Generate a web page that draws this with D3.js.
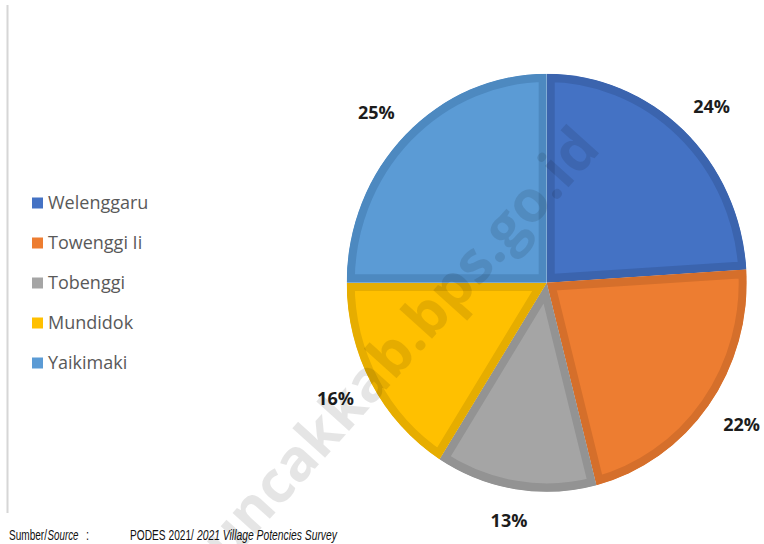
<!DOCTYPE html>
<html>
<head>
<meta charset="utf-8">
<script src="https://cdn.jsdelivr.net/npm/d3@7"></script>
<style>
  body { margin: 0; background: #fff; }
  svg { display: block; }
</style>
</head>
<body>
<svg id="chart" width="764" height="544"></svg>
<script>
// data
const villages = ["Welenggaru", "Towenggi Ii", "Tobenggi", "Mundidok", "Yaikimaki"];
const shares = [24, 22, 13, 16, 25];
const fills = ["#4472c4", "#ed7d31", "#a5a5a5", "#ffc000", "#5b9bd5"];
const borders = ["#3b64ae", "#d56f2b", "#939393", "#e6ad00", "#4d89c0"];
// potongan teks sumber: [teks, miring?, x, panjang]
const sourceParts = [
  ["Sumber/", false, 9, 38],
  ["Source", true, 47.5, 31],
  [":", false, 86, 3],
  ["PODES 2021/", false, 130, 64],
  ["2021 Village Potencies Survey", true, 197, 140]
];
const watermark = "puncakkab.bps.go.id";

const w = 764, h = 544;
const cx = 546.7, cy = 282.7, r = 200;

const svg = d3.select("#chart");

// garis tipis di kiri
svg.append("line")
  .attr("x1", 7.5).attr("x2", 7.5)
  .attr("y1", 5).attr("y2", 513)
  .attr("stroke", "#d6d6d6")
  .attr("stroke-width", 2);

// pie
const pie = d3.pie().sort(null).value(d => d);
const arcs = pie(shares);
const arc = d3.arc().innerRadius(0).outerRadius(r);
const labelArc = d3.arc().innerRadius(241).outerRadius(241);

const defs = svg.append("defs");
defs.selectAll("clipPath")
  .data(arcs)
  .join("clipPath")
  .attr("id", (d, i) => "slice" + i)
  .append("path")
  .attr("d", arc);

const g = svg.append("g")
  .attr("transform", `translate(${cx},${cy}) scale(1,1.045)`);

g.selectAll("path.slice")
  .data(arcs)
  .join("path")
  .attr("class", "slice")
  .attr("d", arc)
  .attr("fill", (d, i) => fills[i])
  .attr("stroke", (d, i) => borders[i])
  .attr("stroke-width", 16)
  .attr("stroke-linejoin", "miter")
  .attr("clip-path", (d, i) => `url(#slice${i})`);

// label persen
svg.append("g")
  .attr("transform", `translate(${cx},${cy})`)
  .selectAll("text")
  .data(arcs)
  .join("text")
  .attr("x", d => labelArc.centroid(d)[0])
  .attr("y", d => labelArc.centroid(d)[1])
  .attr("dy", "0.35em")
  .attr("text-anchor", "middle")
  .attr("font-family", "'Open Sans', sans-serif")
  .attr("font-weight", "bold")
  .attr("font-size", 18)
  .attr("fill", "#1c1c1c")
  .text(d => d.data + "%");

// legend
const legend = svg.append("g").attr("transform", "translate(32,203)");
const row = legend.selectAll("g")
  .data(villages)
  .join("g")
  .attr("transform", (d, i) => `translate(0,${i * 40})`);
row.append("rect")
  .attr("x", 0).attr("y", -5.5)
  .attr("width", 11).attr("height", 11)
  .attr("fill", (d, i) => fills[i]);
row.append("text")
  .attr("x", 16)
  .attr("dy", "0.36em")
  .attr("font-family", "'Open Sans', sans-serif")
  .attr("font-size", 18)
  .attr("fill", "#595959")
  .text(d => d);

// sumber: huruf condensed, dipersempit dengan scale horizontal
svg.append("g")
  .attr("font-family", "'Liberation Sans', sans-serif")
  .attr("font-size", 14)
  .attr("fill", "#111")
  .selectAll("text")
  .data(sourceParts)
  .join("text")
  .attr("font-style", d => d[1] ? "italic" : "normal")
  .text(d => d[0])
  .attr("transform", function (d) {
    const k = d[3] / this.getComputedTextLength();
    return `translate(${d[2]},539.5) scale(${k},1)`;
  });

// watermark
svg.append("text")
  .attr("transform", "translate(602,150) rotate(-48)")
  .attr("text-anchor", "end")
  .attr("font-family", "'Open Sans', sans-serif")
  .attr("font-weight", "bold")
  .attr("font-size", 58)
  .attr("fill", "#000")
  .attr("fill-opacity", 0.1)
  .text(watermark);
</script>
</body>
</html>
